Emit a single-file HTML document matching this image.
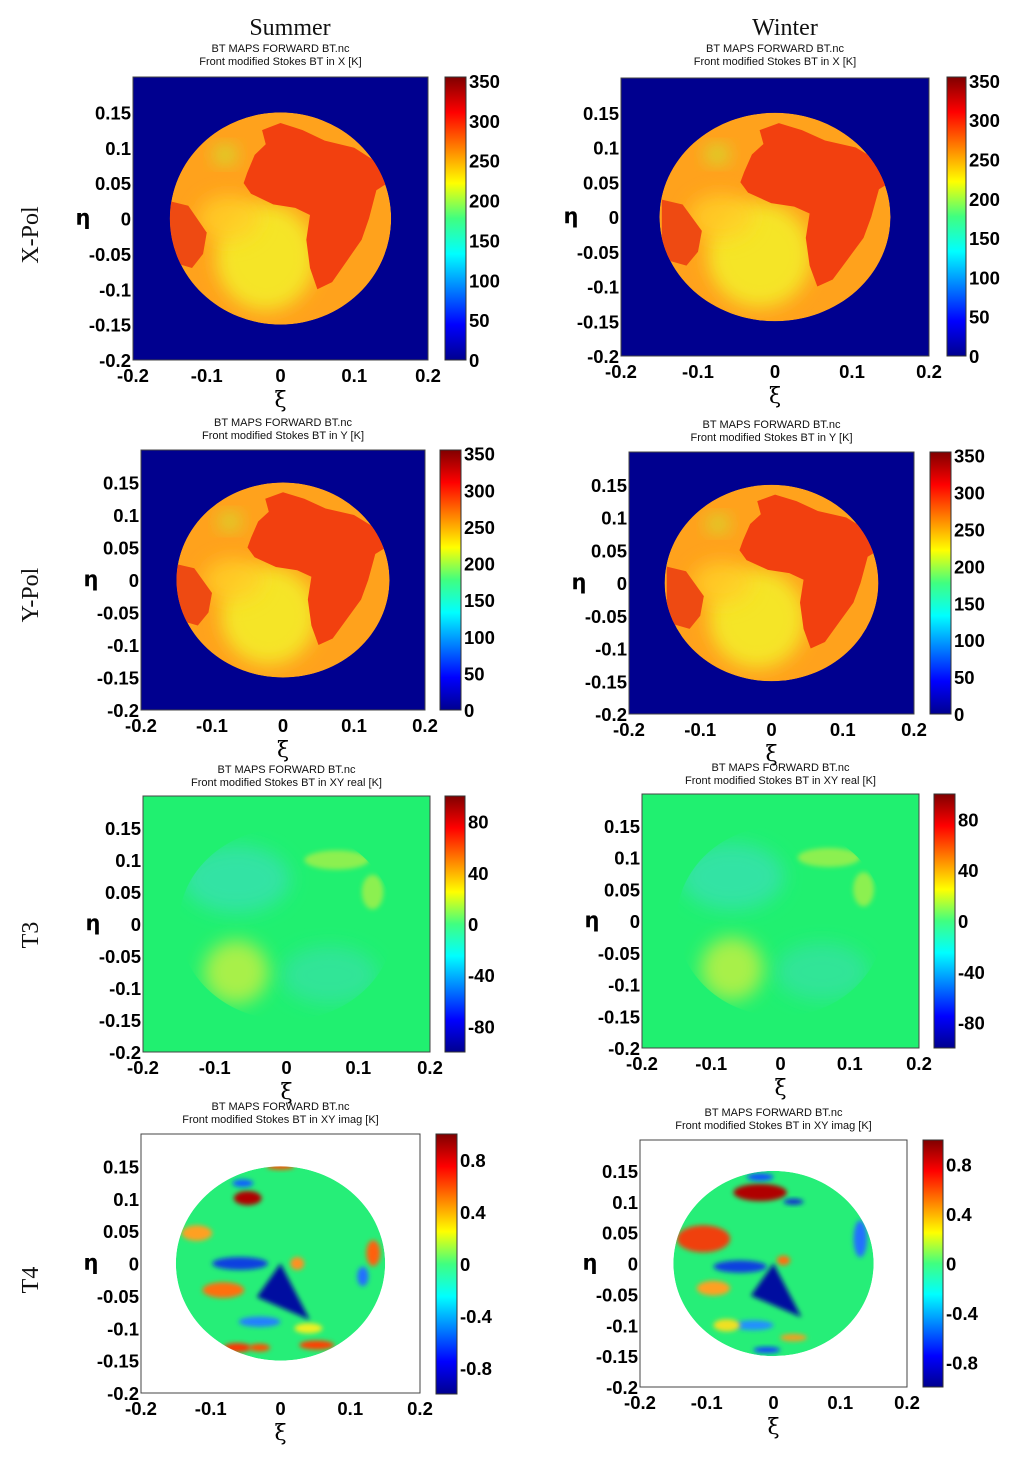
<!DOCTYPE html>
<html><head><meta charset="utf-8"><style>
html,body{margin:0;padding:0;background:#fff;}
svg{display:block;font-family:"Liberation Sans",Arial,sans-serif;}
.tk{font-weight:bold;font-size:18.5px;fill:#000;}
.tt{font-size:11px;fill:#111;}
.hd{font-family:"Liberation Serif",serif;font-size:24px;fill:#111;}
</style></head><body>
<svg id="root" width="1024" height="1458" viewBox="0 0 1024 1458" xmlns="http://www.w3.org/2000/svg">
<defs>
<linearGradient id="jet" x1="0" y1="1" x2="0" y2="0">
<stop offset="0" stop-color="#00008f"/><stop offset="0.125" stop-color="#0000ff"/>
<stop offset="0.375" stop-color="#00ffff"/><stop offset="0.5" stop-color="#40ff80"/>
<stop offset="0.625" stop-color="#ffff00"/><stop offset="0.875" stop-color="#ff0000"/>
<stop offset="1" stop-color="#800000"/></linearGradient>
<filter id="bl" x="-50%" y="-50%" width="200%" height="200%"><feGaussianBlur stdDeviation="2.5"/></filter>
<filter id="bl2" x="-50%" y="-50%" width="200%" height="200%"><feGaussianBlur stdDeviation="9"/></filter>
</defs>
<text class="hd" x="290" y="35" text-anchor="middle">Summer</text>
<text class="hd" x="785" y="35" text-anchor="middle">Winter</text>
<text class="hd" transform="translate(38,235) rotate(-90)" text-anchor="middle">X-Pol</text>
<text class="hd" transform="translate(38,595) rotate(-90)" text-anchor="middle">Y-Pol</text>
<text class="hd" transform="translate(38,935) rotate(-90)" text-anchor="middle">T3</text>
<text class="hd" transform="translate(38,1280) rotate(-90)" text-anchor="middle">T4</text>
</svg>
<script>
// ---- data ----
const xTicks = [-0.2, -0.1, 0, 0.1, 0.2];
const yTicks = [0.15, 0.1, 0.05, 0, -0.05, -0.1, -0.15, -0.2];
const cbTicksBT = [0, 50, 100, 150, 200, 250, 300, 350];
const cbRangeBT = [0, 355];
const cbTicksT3 = [-80, -40, 0, 40, 80];
const cbRangeT3 = [-100, 100];
const cbTicksT4 = [-0.8, -0.4, 0, 0.4, 0.8];
const cbRangeT4 = [-1, 1];
const globeRadius = 0.15;
const africa = [[-0.045,0.065],[-0.035,0.09],[-0.02,0.105],[-0.025,0.125],[0.0,0.135],[0.03,0.125],[0.06,0.11],[0.1,0.1],[0.13,0.08],[0.145,0.05],[0.13,0.04],[0.12,0.0],[0.11,-0.03],[0.09,-0.06],[0.07,-0.09],[0.05,-0.1],[0.04,-0.07],[0.035,-0.03],[0.04,0.005],[0.02,0.015],[-0.01,0.02],[-0.04,0.035],[-0.05,0.05]];
const samerica = [[-0.152,0.025],[-0.125,0.018],[-0.1,-0.02],[-0.105,-0.05],[-0.12,-0.07],[-0.152,-0.06]];
const t4SummerBlobs = [[-0.047,0.101,0.02,0.011,'#b00000'],[-0.054,0.124,0.015,0.006,'#1060ff'],[-0.12,0.047,0.022,0.012,'#ffa020'],[-0.058,0.0,0.04,0.01,'#1040e0'],[-0.082,-0.041,0.03,0.012,'#ff7010'],[0.024,0.0,0.01,0.01,'#ff9020'],[0.133,0.016,0.01,0.02,'#ff6010'],[0.118,-0.02,0.008,0.015,'#2070ff'],[-0.062,-0.13,0.02,0.007,'#ff3000'],[-0.03,-0.13,0.015,0.006,'#ff5000'],[0.052,-0.126,0.025,0.007,'#ff4000'],[-0.03,-0.09,0.03,0.008,'#2080ff'],[0.04,-0.1,0.02,0.008,'#f0f020'],[0.0,0.15,0.02,0.005,'#ff5000']];
const t4WinterBlobs = [[-0.02,0.115,0.04,0.014,'#b00000'],[-0.02,0.14,0.02,0.006,'#1050ff'],[-0.105,0.04,0.04,0.022,'#f04010'],[-0.05,-0.005,0.04,0.01,'#1040e0'],[-0.09,-0.04,0.025,0.012,'#ffa020'],[0.015,0.005,0.01,0.008,'#ff7010'],[0.13,0.04,0.01,0.03,'#2070ff'],[-0.03,-0.1,0.03,0.008,'#2090ff'],[-0.07,-0.1,0.02,0.01,'#f0e020'],[0.03,-0.12,0.02,0.006,'#f0a020'],[-0.01,-0.14,0.02,0.005,'#1040ff'],[0.03,0.1,0.015,0.005,'#1030d0']];
const t4Triangle = [[0,0],[-0.034,-0.052],[0.042,-0.087]];
const panels = [
 {name:'summer-xpol',kind:'bt',p:[133,428,77,360],cb:[445,466,77,360],ty:52,dx:0},
 {name:'winter-xpol',kind:'bt',p:[621,929,78,356],cb:[947,966,77,356],ty:52,dx:0.005},
 {name:'summer-ypol',kind:'bt',p:[141,425,450,710],cb:[440,461,450,710],ty:426,dx:0},
 {name:'winter-ypol',kind:'bt',p:[629,914,452,714],cb:[930,951,452,714],ty:428,dx:0.005},
 {name:'summer-t3',kind:'t3',p:[143,430,796,1052],cb:[445,465,796,1052],ty:773,dx:0},
 {name:'winter-t3',kind:'t3',p:[642,919,794,1048],cb:[934,955,794,1048],ty:771,dx:0},
 {name:'summer-t4',kind:'t4',p:[141,420,1134,1393],cb:[436,457,1134,1394],ty:1110,blobs:t4SummerBlobs},
 {name:'winter-t4',kind:'t4',p:[640,907,1140,1387],cb:[923,943,1140,1387],ty:1116,blobs:t4WinterBlobs}
];
const titles = {bt:['Front modified Stokes BT in X [K]','Front modified Stokes BT in Y [K]'],t3:'Front modified Stokes BT in XY real [K]',t4:'Front modified Stokes BT in XY imag [K]'};
// ---- drawing ----
const NS='http://www.w3.org/2000/svg';
const root=document.getElementById('root');
function mk(tag,attrs,parent){const e=document.createElementNS(NS,tag);for(const k in attrs)e.setAttribute(k,attrs[k]);(parent||root).appendChild(e);return e;}
function fmt(v){return String(v);}
panels.forEach((P,i)=>{
 const [x0,x1,y0,y1]=P.p;
 const sx=v=>x0+(v+0.2)/0.4*(x1-x0);
 const sy=v=>y1-(v+0.2)/0.4*(y1-y0);
 const g=mk('g',{});
 
 
 const cx=(x0+x1)/2;
 const t1=mk('text',{x:cx,y:P.ty,'text-anchor':'middle',class:'tt'},g);t1.textContent='BT MAPS FORWARD BT.nc';
 
 
 const t2=mk('text',{x:cx,y:P.ty+13,'text-anchor':'middle',class:'tt'},g);
 t2.textContent=P.kind==='bt'?titles.bt[i<2?0:1]:titles[P.kind];
 
 
 const bg={bt:'#00008f',t3:'#20f070',t4:'#ffffff'}[P.kind];
 const pl=mk('rect',{x:x0,y:y0,width:x1-x0,height:y1-y0,fill:bg,stroke:'#444','stroke-width':1},g);
 
 
 const cid='clip'+i;
 const cp=mk('clipPath',{id:cid},g);
 const R=(x1-x0)/0.4*globeRadius, Ry=(y1-y0)/0.4*globeRadius;
 mk('ellipse',{cx:sx(0),cy:sy(0),rx:R,ry:Ry},cp);
 const gl=mk('g',{'clip-path':'url(#'+cid+')'},g);
 
 
 const pts=arr=>arr.map(p=>sx(p[0]+(P.dx||0))+','+sy(p[1])).join(' ');
 if(P.kind==='bt'){
  mk('ellipse',{cx:sx(0),cy:sy(0),rx:R,ry:Ry,fill:'#ffa21c'},gl);
  mk('ellipse',{cx:sx(-0.02),cy:sy(-0.055),rx:R*0.45,ry:Ry*0.5,fill:'#f4ec28',filter:'url(#bl2)','fill-opacity':0.9},gl);
  mk('ellipse',{cx:sx(-0.07),cy:sy(0.0),rx:R*0.28,ry:Ry*0.22,fill:'#ffd024',filter:'url(#bl2)','fill-opacity':0.8},gl);
  mk('ellipse',{cx:sx(-0.075),cy:sy(0.09),rx:R*0.1,ry:Ry*0.08,fill:'#c8e830',filter:'url(#bl2)'},gl);
  const af=mk('polygon',{points:pts(africa),fill:'#f2400f'},gl);
  
  
  const sa=mk('polygon',{points:pts(samerica),fill:'#ee4a12'},gl);
  
  
 } else if(P.kind==='t3'){
  mk('ellipse',{cx:sx(-0.07),cy:sy(0.07),rx:R*0.5,ry:Ry*0.35,fill:'#38e0b0',filter:'url(#bl2)','fill-opacity':0.8},gl);
  mk('ellipse',{cx:sx(0.06),cy:sy(-0.08),rx:R*0.45,ry:Ry*0.3,fill:'#38e0a8',filter:'url(#bl2)','fill-opacity':0.7},gl);
  mk('ellipse',{cx:sx(-0.07),cy:sy(-0.075),rx:R*0.3,ry:Ry*0.33,fill:'#a8f048',filter:'url(#bl2)'},gl);
  mk('ellipse',{cx:sx(0.07),cy:sy(0.1),rx:R*0.3,ry:Ry*0.1,fill:'#a8f048',filter:'url(#bl)','fill-opacity':0.8},gl);
  mk('ellipse',{cx:sx(0.12),cy:sy(0.05),rx:R*0.1,ry:Ry*0.18,fill:'#a8f048',filter:'url(#bl)','fill-opacity':0.8},gl);
 } else {
  mk('ellipse',{cx:sx(0),cy:sy(0),rx:R,ry:Ry,fill:'#26ee78'},gl);
  P.blobs.forEach(b=>{
   const e=mk('ellipse',{cx:sx(b[0]),cy:sy(b[1]),rx:b[2]/0.4*(x1-x0),ry:b[3]/0.4*(y1-y0),fill:b[4],filter:'url(#bl)'},gl);
   
   
  });
  const tr=mk('polygon',{points:pts(t4Triangle),fill:'#0010a0',filter:'url(#bl)'},gl);
  
  
 }
 // ticks
 xTicks.forEach(v=>{
  const t=mk('text',{x:sx(v),y:y1+22,'text-anchor':'middle',class:'tk'},g);t.textContent=fmt(v);
  
  
 });
 yTicks.forEach(v=>{
  const t=mk('text',{x:x0-2,y:sy(v)+7,'text-anchor':'end',class:'tk'},g);t.textContent=fmt(v);
  
  
 });
 const xl=mk('text',{x:sx(0),y:y1+47,'text-anchor':'middle',style:'font-family:"DejaVu Serif",serif;font-size:22px'},g);xl.textContent='ξ';
 
 
 const yl=mk('text',{x:x0-50,y:sy(0)+6,'text-anchor':'middle',style:'font-family:"DejaVu Sans",sans-serif;font-size:21px;font-weight:bold'},g);yl.textContent='η';
 
 
 // colorbar
 const [c0,c1,cy0,cy1]=P.cb;
 const cbr=mk('rect',{x:c0,y:cy0,width:c1-c0,height:cy1-cy0,fill:'url(#jet)',stroke:'#333','stroke-width':1},g);
 
 
 const ticks=P.kind==='bt'?cbTicksBT:P.kind==='t3'?cbTicksT3:cbTicksT4;
 const rng=P.kind==='bt'?cbRangeBT:P.kind==='t3'?cbRangeT3:cbRangeT4;
 ticks.forEach(v=>{
  const y=cy1-(v-rng[0])/(rng[1]-rng[0])*(cy1-cy0);
  const t=mk('text',{x:c1+3,y:y+7,class:'tk'},g);t.textContent=fmt(v);
  
  
 });
});
</script>
</body></html>
